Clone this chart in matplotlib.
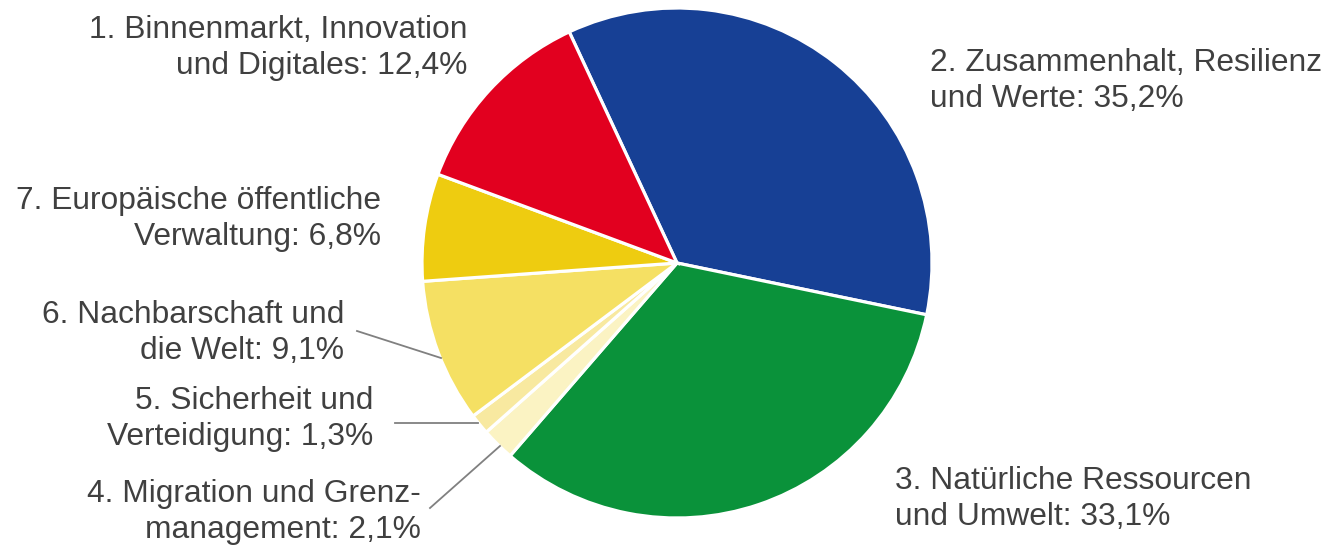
import matplotlib
matplotlib.use("Agg")
import matplotlib.pyplot as plt

plt.rcParams['font.family'] = ['Liberation Sans', 'DejaVu Sans']

# Data (drawing order: clockwise starting with slice 2)
labels = ["2. Zusammenhalt, Resilienz\nund Werte: 35,2%",
          "3. Natürliche Ressourcen\nund Umwelt: 33,1%",
          "4. Migration und Grenz-\nmanagement: 2,1%",
          "5. Sicherheit und\nVerteidigung: 1,3%",
          "6. Nachbarschaft und\ndie Welt: 9,1%",
          "7. Europäische öffentliche\nVerwaltung: 6,8%",
          "1. Binnenmarkt, Innovation\nund Digitales: 12,4%"]
values = [35.2, 33.1, 2.1, 1.3, 9.1, 6.8, 12.4]
colors = ["#174095", "#0A923A", "#FBF3C3", "#F8E9A0", "#F5E063", "#EECC10", "#E2001F"]

W, H = 1327, 548
CX, CY, R = 677, 263, 255

fig = plt.figure(figsize=(W / 100, H / 100), dpi=100)
ax = fig.add_axes([0, 0, 1, 1])

ax.pie(values, colors=colors, startangle=115, counterclock=False, radius=1,
       wedgeprops=dict(edgecolor='white', linewidth=2.3))
ax.set_aspect('auto')
ax.set_xlim(-CX / R, (W - CX) / R)
ax.set_ylim(-(H - CY) / R, CY / R)
ax.axis('off')

def px(x, y):
    return ((x - CX) / R, (CY - y) / R)

txt = dict(fontsize=22.9, color='#404040', linespacing=1.27, va='center')
# label positions (pixel coords) and alignment
pos = [(467, 48, 'right'), (930, 81, 'left'), (895, 499, 'left'), (421, 512, 'right'),
       (373, 419, 'right'), (344, 333, 'right'), (381, 219, 'right')]
order = [6, 0, 1, 2, 3, 4, 5]
for i, (x, y, ha) in zip(order, pos):
    ax.text(*px(x, y), labels[i], ha=ha, multialignment=ha, **txt)

leaders = [((357, 331), (441, 358)), ((395, 423), (478, 423)), ((430, 508), (500, 446))]
for a, b in leaders:
    (x0, y0), (x1, y1) = px(*a), px(*b)
    ax.plot([x0, x1], [y0, y1], color='#808080', lw=1.3)

fig.savefig("out.png", dpi=100)
